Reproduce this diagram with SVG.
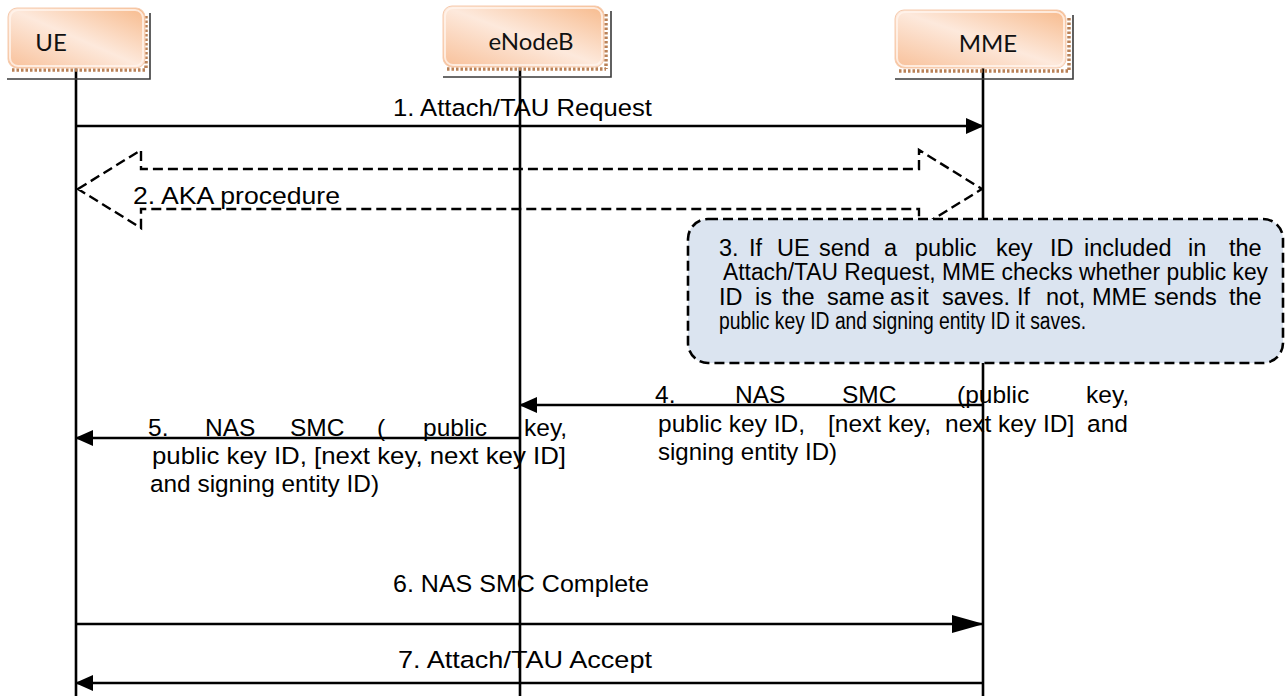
<svg xmlns="http://www.w3.org/2000/svg" width="1288" height="696" viewBox="0 0 1288 696">
<style>
.box{fill:url(#peach);stroke:#F6CBAE;stroke-width:1}
.inner{fill:none;stroke:#FFF4EC;stroke-width:2;opacity:.8}
.scallop{fill:none;stroke:#B98157;stroke-width:3.5;stroke-dasharray:2.5 2;stroke-linecap:butt}
.frame{fill:none;stroke:#3A3A3A;stroke-width:1.6}
.lbl{font-family:Lato,"Open Sans",sans-serif;font-size:24px;fill:#111;text-anchor:middle}
.life{stroke:#000;stroke-width:2.6;fill:none}
.msg{stroke:#000;stroke-width:2.6;fill:none}
.dash{stroke:#000;stroke-width:2.4;stroke-dasharray:10 5;fill:none}
.t{font-family:"Liberation Sans",Arial,sans-serif;font-size:24.5px;fill:#000}
.ct{font-family:"Liberation Sans",Arial,sans-serif;font-size:23.5px;fill:#000}
.note{fill:#DBE4F0;stroke:#000;stroke-width:2.6;stroke-dasharray:10 5}
</style>
<defs>
<linearGradient id="peach" x1="1" y1="0" x2="0" y2="1">
<stop offset="0" stop-color="#F7BA8C"/>
<stop offset="0.5" stop-color="#FDE9DC"/>
<stop offset="1" stop-color="#F8C099"/>
</linearGradient>
<marker id="ah" markerUnits="userSpaceOnUse" markerWidth="18" markerHeight="18" viewBox="0 0 18 18" refX="17" refY="9" orient="auto">
<path d="M0,1 L18,9 L0,17 Z" fill="#000"/>
</marker>
<marker id="ahLong" markerUnits="userSpaceOnUse" markerWidth="32" markerHeight="18" viewBox="0 0 32 18" refX="31" refY="9" orient="auto">
<path d="M0,0 L32,9 L0,18 Z" fill="#000"/>
</marker>
</defs>
<rect width="1288" height="696" fill="#fff"/>

<g id="lifelines">
<line class="life" x1="76" y1="68" x2="76" y2="696"/>
<line class="life" x1="520" y1="67" x2="520" y2="696"/>
<line class="life" x1="983" y1="68" x2="983" y2="696"/>
</g>

<g id="node-ue">
<polyline class="frame" points="150,13 150,79 7,79"/>
<path class="scallop" d="M12,70 H146 M146,16 V70"/>
<rect class="box" x="8" y="8" width="137" height="60" rx="9"/>
<rect class="inner" x="10" y="10" width="133" height="56" rx="8"/>
<text class="lbl" x="51" y="51">UE</text>
</g>

<g id="node-enodeb">
<polyline class="frame" points="611,11 611,77 443,77"/>
<path class="scallop" d="M447,69 H606 M606,14 V69"/>
<rect class="box" x="443" y="6" width="161" height="61" rx="9"/>
<rect class="inner" x="445" y="8" width="157" height="57" rx="8"/>
<text class="lbl" x="531" y="50">eNodeB</text>
</g>

<g id="node-mme">
<polyline class="frame" points="1073,15 1073,79 895,79"/>
<path class="scallop" d="M899,71 H1069 M1069,18 V71"/>
<rect class="box" x="895" y="10" width="171" height="58" rx="9"/>
<rect class="inner" x="897" y="12" width="167" height="54" rx="8"/>
<text class="lbl" x="988" y="52">MME</text>
</g>

<g id="connectors">
<line class="msg" x1="76" y1="126" x2="983" y2="126" marker-end="url(#ah)"/>
<path class="dash" d="M78,189 L141,150 L141,169 L919,169 L919,150 L982,189 L919,228 L919,209 L141,209 L141,228 Z"/>
<line class="msg" x1="983" y1="405" x2="520" y2="405" marker-end="url(#ah)"/>
<line class="msg" x1="520" y1="438" x2="76" y2="438" marker-end="url(#ah)"/>
<line class="msg" x1="76" y1="624" x2="983" y2="624" marker-end="url(#ahLong)"/>
<line class="msg" x1="983" y1="683" x2="76" y2="683" marker-end="url(#ah)"/>
</g>

<g id="labels">
<text class="t" x="393" y="116" textLength="259" lengthAdjust="spacingAndGlyphs">1.  Attach/TAU Request</text>
<text class="t" x="133" y="204" textLength="207" lengthAdjust="spacingAndGlyphs">2.  AKA procedure</text>
<text class="t" y="403"><tspan x="655">4.</tspan><tspan x="735">NAS</tspan><tspan x="842">SMC</tspan><tspan x="957">(public</tspan><tspan x="1086">key,</tspan></text>
<text class="t" y="432"><tspan x="658">public key ID,</tspan><tspan x="828">[next key,</tspan><tspan x="945">next key ID]</tspan><tspan x="1087">and</tspan></text>
<text class="t" x="658" y="460" textLength="179" lengthAdjust="spacingAndGlyphs">signing entity ID)</text>
<text class="t" y="436"><tspan x="148">5.</tspan><tspan x="205">NAS</tspan><tspan x="290">SMC</tspan><tspan x="377">(</tspan><tspan x="423">public</tspan><tspan x="524">key,</tspan></text>
<text class="t" x="152" y="464" textLength="414" lengthAdjust="spacingAndGlyphs">public key ID, [next key, next key ID]</text>
<text class="t" x="150" y="492" textLength="229" lengthAdjust="spacingAndGlyphs">and signing entity ID)</text>
<text class="t" x="393" y="592" textLength="256" lengthAdjust="spacingAndGlyphs">6. NAS SMC Complete</text>
<text class="t" x="398" y="668" textLength="254" lengthAdjust="spacingAndGlyphs">7. Attach/TAU Accept</text>
</g>

<g id="note-3">
<rect class="note" x="688" y="219" width="595" height="144" rx="20"/>
<text class="ct" y="256"><tspan x="719">3.</tspan><tspan x="749">If</tspan><tspan x="777">UE</tspan><tspan x="819">send</tspan><tspan x="884">a</tspan><tspan x="915">public</tspan><tspan x="996">key</tspan><tspan x="1050">ID</tspan><tspan x="1084">included</tspan><tspan x="1188">in</tspan><tspan x="1229">the</tspan></text>
<text class="ct" x="723" y="280" textLength="545" lengthAdjust="spacingAndGlyphs">Attach/TAU Request, MME checks whether public key</text>
<text class="ct" y="305"><tspan x="719">ID</tspan><tspan x="755">is</tspan><tspan x="782">the</tspan><tspan x="827">same</tspan><tspan x="890">as</tspan><tspan x="917">it</tspan><tspan x="942">saves.</tspan><tspan x="1017">If</tspan><tspan x="1046">not,</tspan><tspan x="1092">MME</tspan><tspan x="1154">sends</tspan><tspan x="1229">the</tspan></text>
<text class="ct" x="719" y="329" textLength="367" lengthAdjust="spacingAndGlyphs">public key ID and signing entity ID it saves.</text>
</g>
</svg>
